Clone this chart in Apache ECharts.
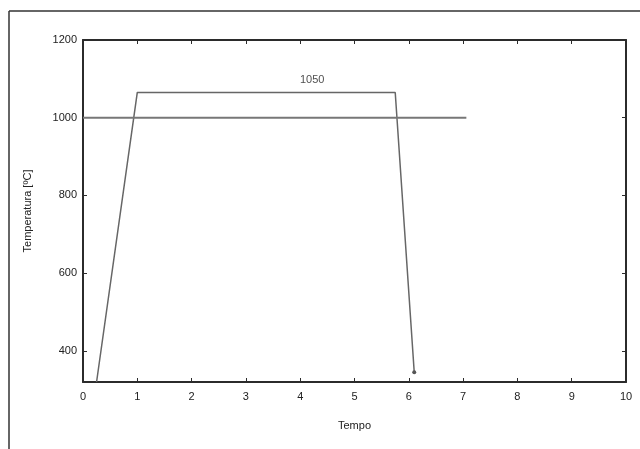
<!DOCTYPE html>
<html>
<head>
<meta charset="utf-8">
<script src="https://cdn.jsdelivr.net/npm/echarts@6/dist/echarts.min.js"></script>
<style>
  html, body { margin: 0; padding: 0; background: #fff; }
  #chart { width: 640px; height: 449px; }
</style>
</head>
<body>
<div id="chart"></div>
<script>
  // ciclo termico (tempo, temperatura)
  var cycleTime = [0.25, 1.0, 5.75, 6.1]
  var cycleTemp = [320, 1065, 1065, 345]
  // riferimento 1000 °C
  var refTime = [0, 7.06]
  var refTemp = [1000, 1000]
  var xTicks = [0, 1, 2, 3, 4, 5, 6, 7, 8, 9, 10]
  var yTicks = [400, 600, 800, 1000, 1200]
  var plateauLabel = '1050'
  var plateauLabelPos = [4.22, 1097]

  var chart = echarts.init(document.getElementById('chart'))
  var font = 'Liberation Sans, Arial, sans-serif'
  var axisColor = '#2b2b2b'
  var textColor = '#222'

  function boxAxis(extra) {
    return Object.assign({
      type: 'value',
      axisLine: { show: true, onZero: false, lineStyle: { color: axisColor, width: 2 } },
      axisTick: { show: true, inside: true, length: 4, lineStyle: { color: axisColor, width: 1 } },
      splitLine: { show: false },
      axisLabel: { show: false }
    }, extra)
  }

  var option = {
    backgroundColor: '#fff',
    animation: false,
    grid: { left: 83, top: 40, right: 14, bottom: 67 },
    xAxis: [
      boxAxis({
        min: 0, max: 10,
        name: 'Tempo',
        nameLocation: 'middle',
        nameGap: 38,
        nameTextStyle: { fontFamily: font, fontSize: 11, color: textColor },
        axisTick: { show: true, inside: true, length: 4, customValues: xTicks, lineStyle: { color: axisColor } },
        axisLabel: { show: true, customValues: xTicks, margin: 9, fontFamily: font, fontSize: 11, color: textColor,
          formatter: function (v) { return String(v) } }
      }),
      boxAxis({ min: 0, max: 10, position: 'top',
        axisTick: { show: true, inside: true, length: 4, customValues: xTicks, lineStyle: { color: axisColor } } })
    ],
    yAxis: [
      boxAxis({
        min: 320, max: 1200,
        name: 'Temperatura [ºC]',
        nameLocation: 'middle',
        nameGap: 50,
        nameTextStyle: { fontFamily: font, fontSize: 11, color: textColor },
        axisTick: { show: true, inside: true, length: 4, customValues: yTicks, lineStyle: { color: axisColor } },
        axisLabel: { show: true, customValues: yTicks, margin: 6, fontFamily: font, fontSize: 11, color: textColor,
          formatter: function (v) { return String(v) } }
      }),
      boxAxis({ min: 320, max: 1200, position: 'right',
        axisTick: { show: true, inside: true, length: 4, customValues: yTicks, lineStyle: { color: axisColor } } })
    ],
    graphic: [
      { type: 'line', shape: { x1: 9, y1: 11, x2: 640, y2: 11 }, style: { stroke: '#333', lineWidth: 1.5 } },
      { type: 'line', shape: { x1: 9, y1: 11, x2: 9, y2: 449 }, style: { stroke: '#333', lineWidth: 1.5 } }
    ],
    series: [
      {
        type: 'line',
        data: cycleTime.map(function (t, i) { return [t, cycleTemp[i]] }),
        showSymbol: false,
        lineStyle: { color: '#666', width: 1.5 },
        markPoint: {
          symbol: 'circle', symbolSize: 4,
          itemStyle: { color: '#555' },
          label: { show: false },
          data: [{ coord: [cycleTime[cycleTime.length - 1], cycleTemp[cycleTemp.length - 1]] }]
        }
      },
      {
        type: 'line',
        data: refTime.map(function (t, i) { return [t, refTemp[i]] }),
        showSymbol: false,
        lineStyle: { color: '#777', width: 2 }
      },
      {
        type: 'scatter',
        data: [plateauLabelPos],
        symbolSize: 0,
        label: { show: true, position: 'inside', formatter: plateauLabel,
          fontFamily: font, fontSize: 11, color: textColor }
      }
    ]
  }
  chart.setOption(option)
</script>
</body>
</html>
